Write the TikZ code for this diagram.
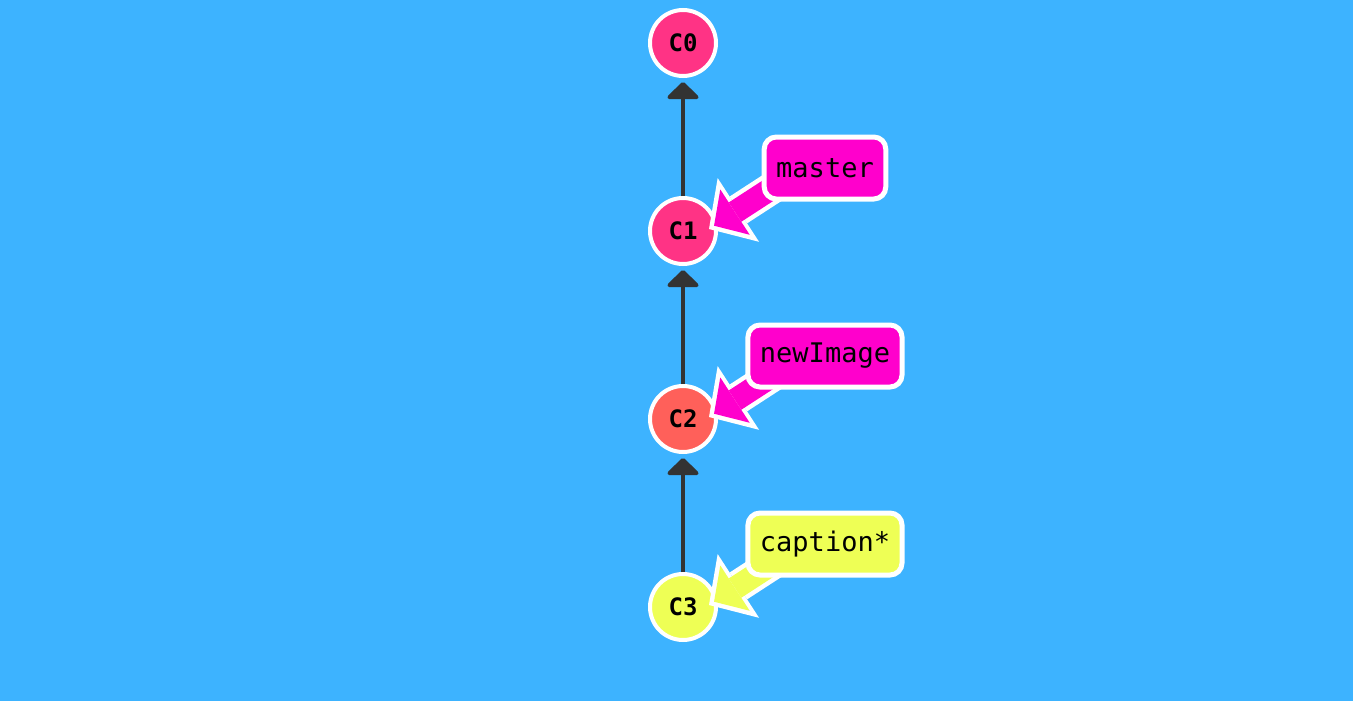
\documentclass[tikz,border=0pt]{standalone}
\usepackage{fontspec}
\setmonofont{DejaVu Sans Mono}
\usetikzlibrary{arrows.meta, positioning}
\definecolor{bgblue}{RGB}{61,179,255}
\definecolor{commitpink}{RGB}{255,51,133}
\definecolor{commitred}{RGB}{255,96,90}
\definecolor{headyellow}{RGB}{238,255,85}
\definecolor{branchpink}{RGB}{255,0,204}
\definecolor{linkgray}{RGB}{51,51,51}
\tikzset{%
commit/.style={
    circle, draw=white, line width=4pt, fill=#1,
    minimum size=66pt, inner sep=0pt,
    font=\ttfamily\bfseries\fontsize{24}{24}\selectfont
  },
  commit/.default=commitpink,
  parent/.style={
    draw=linkgray, line width=4pt, shorten >=4pt,
    -{Triangle[width=36pt,length=18pt,round]}
  },
  branch/.style={
    rectangle, rounded corners=12pt, draw=white, line width=5pt, fill=#1,
    minimum height=62pt, inner xsep=12pt,
    font=\ttfamily\fontsize{27}{27}\selectfont
  },
  branch outline/.style={
    draw=white, line width=32pt,
    -{Triangle[width=76pt,length=35pt,line width=0pt]}
  },
  branch arrow/.style={
    draw=#1, line width=23pt, shorten >=6pt,
    -{Triangle[width=54pt,length=25pt,line width=0pt]}
  }
}
\begin{document}
\begin{tikzpicture}[x=1pt,y=1pt]
\fill[bgblue] (0,0) rectangle (1353,-701);
\node[commit] (C0) at (683,-43) {C0};
\node[commit, below=118pt of C0] (C1) {C1};
\node[commit=commitred, below=118pt of C1] (C2) {C2};
\node[commit=headyellow, below=118pt of C2] (C3) {C3};
\foreach \child/\parent in {C1/C0, C2/C1, C3/C2}
  \draw[parent] (\child) -- (\parent);
\foreach \cmt/\name/\col/\txt in {C1/master/branchpink/master,
    C2/newImage/branchpink/newImage, C3/caption/headyellow/caption*}{
  \coordinate (\name tip) at ([shift={(26,2)}]\cmt);
  \coordinate (\name tail) at ([shift={(33:110)}]\name tip);
  \draw[branch outline] (\name tail) -- (\name tip);
  \draw[branch arrow=\col] (\name tail) -- (\name tip);
  \node[branch=\col] (\name) at ([shift={(142,63)}]\cmt) {\txt};
}
\end{tikzpicture}
\end{document}
